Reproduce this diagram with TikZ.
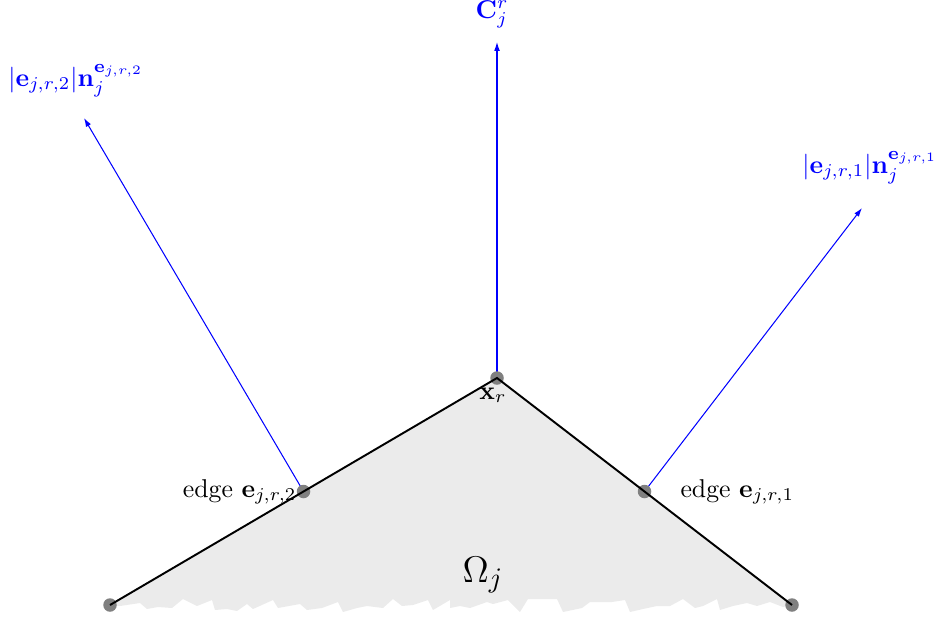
\documentclass[tikz,border=0pt]{standalone}
\usetikzlibrary{arrows.meta}
\begin{document}
\begin{tikzpicture}[x=0.388pt,y=-0.388pt,
  dot/.style={circle,fill=black!50,inner sep=0pt,minimum size=13.5pt*0.388},
  normalarrow/.style={blue,line width=0.4pt,-{Latex[length=3.4pt,width=2.2pt]}},
  edgeline/.style={black,line width=0.75pt},
  lbl/.style={inner sep=0pt,text=blue}]
\useasboundingbox (0,0) rectangle (939,624);
% coordinates
\coordinate (L) at (110,605);
\coordinate (X) at (497,378);
\coordinate (R) at (792,605);
\coordinate (M2) at (303.5,491.5);
\coordinate (M1) at (644.5,491.5);
\coordinate (Ctip) at (497,42);
\coordinate (N2tip) at (84,118);
\coordinate (N1tip) at (862,208);
% domain fill with torn bottom
\fill[black!8] (L) -- (X) -- (R) -- (783,607) -- (770,602) -- (757,606) -- (747,603) -- (733,606) -- (720,610) -- (717,599) -- (703,606) -- (695,608) -- (683,599) -- (670,606) -- (657,606) -- (643,609) -- (630,612) -- (625,600) -- (612,602) -- (590,602) -- (582,608) -- (563,612) -- (557,599) -- (528,599) -- (520,612) -- (508,600) -- (493,604) -- (487,602) -- (470,608) -- (460,606) -- (450,608) -- (450,600) -- (433,610) -- (428,600) -- (413,605) -- (402,606) -- (393,599) -- (383,608) -- (367,606) -- (357,608) -- (343,612) -- (338,602) -- (322,608) -- (307,610) -- (300,604) -- (278,608) -- (273,600) -- (253,609) -- (247,604) -- (237,611) -- (227,609) -- (215,610) -- (212,600) -- (197,606) -- (183,599) -- (172,608) -- (158,607) -- (147,609) -- (140,603) -- (120,606) -- cycle;
% arrows
\draw[normalarrow] (X) -- (Ctip);
\draw[normalarrow] (M2) -- (N2tip);
\draw[normalarrow] (M1) -- (N1tip);
% dots
\node[dot] (dL) at (L) {};
\node[dot] (dX) at (X) {};
\node[dot] (dR) at (R) {};
\node[dot] (dM2) at (M2) {};
\node[dot] (dM1) at (M1) {};
% edges
\draw[edgeline] (dL.center) -- (dX.center) -- (dR.center);
% labels
\node[lbl,anchor=base] (lc) at (492,18) {$\mathbf{C}_j^r$};
\node[lbl,anchor=base] (ln2) at (76,86) {$|\mathbf{e}_{j,r,2}|\mathbf{n}_j^{\mathbf{e}_{j,r,2}}$};
\node[lbl,anchor=base] (ln1) at (870,173) {$|\mathbf{e}_{j,r,1}|\mathbf{n}_j^{\mathbf{e}_{j,r,1}}$};
\node[inner sep=0pt,anchor=base] (lx) at (493,399) {$\mathbf{x}_r$};
\node[inner sep=0pt,anchor=base east] (le2) at (297,497) {edge $\mathbf{e}_{j,r,2}$};
\node[inner sep=0pt,anchor=base west] (le1) at (680,497) {edge $\mathbf{e}_{j,r,1}$};
\node[inner sep=0pt,anchor=base] (lo) at (483,582) {\fontsize{15}{18}\selectfont $\Omega_j$};
\end{tikzpicture}
\end{document}
